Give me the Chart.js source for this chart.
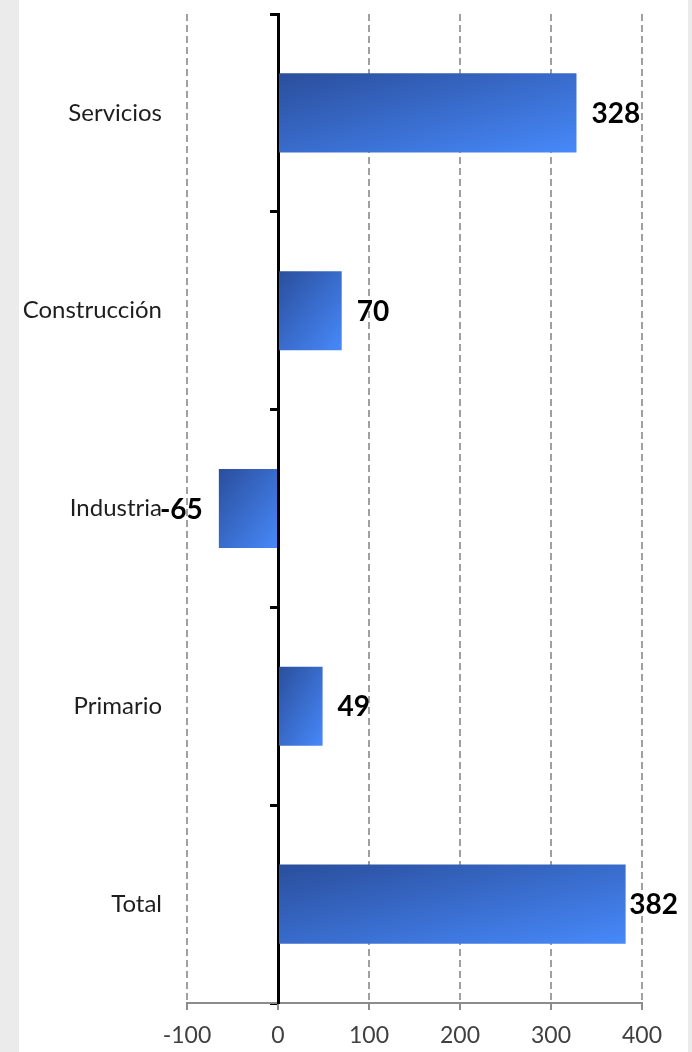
<!DOCTYPE html>
<html>
<head>
<meta charset="utf-8">
<script src="https://cdn.jsdelivr.net/npm/chart.js@4"></script>
<style>
  html, body { margin: 0; padding: 0; background: #ebebeb; }
  #panel { position: absolute; left: 19px; top: 0; width: 669px; height: 1052px; background: #fff; }
  canvas { display: block; }
</style>
</head>
<body>
<div id="panel"><canvas id="chart" width="669" height="1052"></canvas></div>
<script>
const CATEGORIES = ['Servicios', 'Construcción', 'Industria', 'Primario', 'Total'];
const VALUES = [328, 70, -65, 49, 382];
const X_MIN = -100, X_MAX = 400, X_STEP = 100;

const FONT = 'Lato, "Open Sans", sans-serif';

// gradient like Excel's diagonal fill, scaled with the bar shape
function barGradient(c){
  const chart = c.chart;
  const xs = chart.scales.x, ys = chart.scales.y;
  if (c.type !== 'data' || !xs || !ys || c.raw == null) return '#3a6fd6';
  const x0 = xs.getPixelForValue(0), x1 = xs.getPixelForValue(c.raw);
  const band = Math.abs(ys.getPixelForValue(1) - ys.getPixelForValue(0));
  const h = band * 0.4;
  const left = Math.min(x0, x1), w = Math.max(Math.abs(x1 - x0), 1);
  const top = ys.getPixelForValue(c.dataIndex) - h / 2;
  if (![x0, x1, h, top].every(Number.isFinite) || h <= 0) return '#3a6fd6';
  const k = 2 / (1 / (w * w) + 1 / (h * h));
  const g = chart.ctx.createLinearGradient(left, top, left + k / w, top + k / h);
  g.addColorStop(0, '#2A4E9C');
  g.addColorStop(1, '#4789FA');
  return g;
}

// value labels beside the bar ends, pulled back inside the panel if they'd overflow
const valueLabels = {
  id: 'valueLabels',
  afterDatasetsDraw(chart){
    const ctx = chart.ctx;
    const meta = chart.getDatasetMeta(0);
    ctx.save();
    ctx.font = 'bold 28px ' + FONT;
    ctx.fillStyle = '#000';
    ctx.textBaseline = 'middle';
    meta.data.forEach((el, i) => {
      const v = VALUES[i];
      const txt = String(v);
      if (v >= 0) {
        const tw = ctx.measureText(txt).width;
        const x = Math.min(el.x + 15, chart.width - 10 - tw);
        ctx.textAlign = 'left'; ctx.fillText(txt, x, el.y + 1);
      } else {
        ctx.textAlign = 'right'; ctx.fillText(txt, el.x - 16, el.y + 1);
      }
    });
    ctx.restore();
  }
};

new Chart(document.getElementById('chart').getContext('2d'), {
  type: 'bar',
  data: {
    labels: CATEGORIES,
    datasets: [{ data: VALUES, backgroundColor: barGradient, borderWidth: 0, categoryPercentage: 1, barPercentage: 0.4 }]
  },
  options: {
    indexAxis: 'y',
    responsive: false,
    animation: false,
    layout: { padding: { top: 14, right: 46, left: 0, bottom: 0 } },
    plugins: { legend: { display: false }, tooltip: { enabled: false } },
    scales: {
      x: {
        type: 'linear', position: 'bottom', min: X_MIN, max: X_MAX,
        ticks: { stepSize: X_STEP, color: '#404040', font: { family: FONT, size: 23 }, padding: 12 },
        grid: { color: '#a0a0a0', lineWidth: 2, tickLength: 7, tickColor: '#8c8c8c', tickWidth: 2, tickBorderDash: [] },
        border: { display: true, color: '#8c8c8c', width: 2, dash: [7, 4] },
        afterFit: s => { s.height = 49; }
      },
      y: {
        type: 'category', position: 'left',
        ticks: { color: '#1e1e1e', font: { family: FONT, size: 24 }, padding: 25 },
        grid: { display: false, drawTicks: false },
        border: { display: false },
        afterFit: s => { s.width = 168; s.paddingTop = 0; s.paddingBottom = 0; }
      },
      y2: {
        type: 'category', position: { x: 0 }, offset: true, z: 1,
        ticks: { display: false },
        grid: { offset: true, drawOnChartArea: false, tickLength: 7, tickWidth: 3, tickColor: '#000' },
        border: { color: '#000', width: 3 },
        afterFit: s => { s.width = 0; s.paddingTop = 0; s.paddingBottom = 0; }
      }
    }
  },
  plugins: [valueLabels]
});
</script>
</body>
</html>
